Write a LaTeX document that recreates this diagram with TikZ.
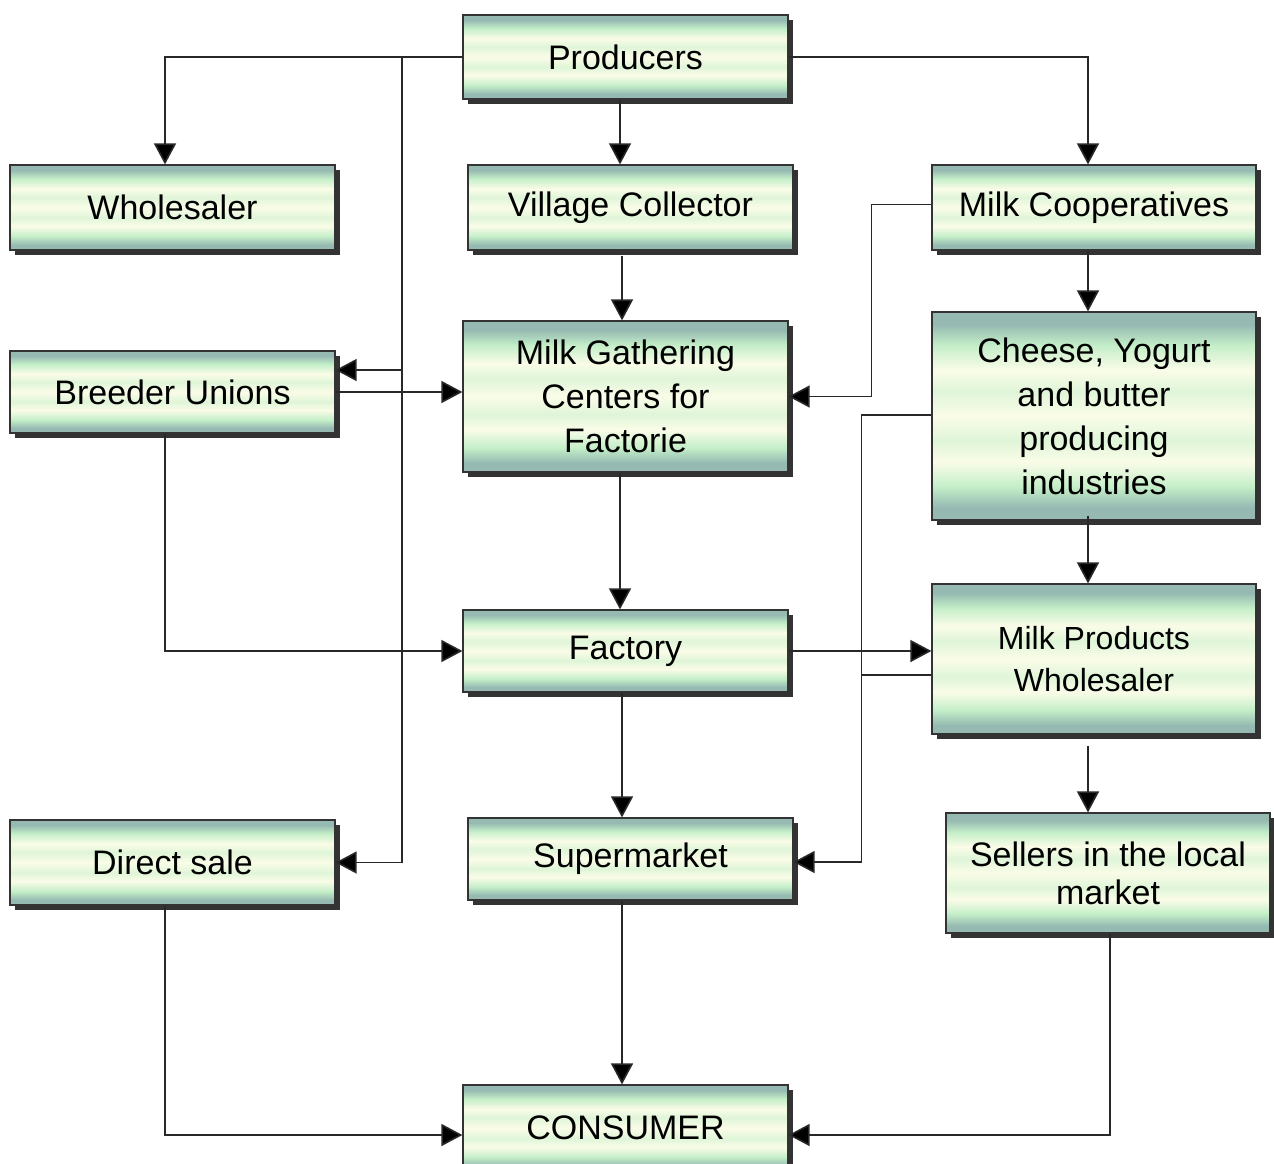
\documentclass[tikz,border=0pt]{standalone}
\usepackage{fontspec}
\setmainfont{Liberation Sans}
\usetikzlibrary{arrows.meta,shadows}
\definecolor{edgeteal}{RGB}{150,186,178}
\definecolor{lgreen}{RGB}{196,238,200}
\definecolor{ivory}{RGB}{250,252,232}
\definecolor{linegray}{RGB}{40,40,40}
\pgfdeclareverticalshading{boxshade}{100bp}{color(0bp)=(edgeteal); color(25bp)=(edgeteal); color(28bp)=(edgeteal); color(33bp)=(lgreen); color(39bp)=(ivory); color(44bp)=(lgreen!50!ivory); color(50bp)=(ivory); color(56bp)=(lgreen!50!ivory); color(61bp)=(ivory); color(67bp)=(lgreen); color(72bp)=(edgeteal); color(75bp)=(edgeteal); color(100bp)=(edgeteal)}
\tikzset{
  box/.style={draw=black!80, line width=1.2pt, shading=boxshade,
    drop shadow={shadow xshift=5pt, shadow yshift=-5pt, fill=black!80, opacity=1},
    align=center, inner sep=2pt, font=\fontsize{34}{44}\selectfont, minimum width=325pt},
  arr/.style={draw=linegray, line width=1.6pt, -{Triangle[length=21pt,width=22pt,fill=black]}},
  ln/.style={draw=linegray, line width=1.6pt}
}
\begin{document}
\begin{tikzpicture}[x=1pt,y=-1pt]
\fill[white] (0,0) rectangle (1274,1163);
\useasboundingbox (0,0) rectangle (1274,1163);

\node[box, minimum height=84pt] (prod) at (625.5,57) {Producers};
\node[box, minimum height=85pt] (whole) at (172.5,207.5) {Wholesaler};
\node[box, minimum height=85pt] (vc) at (630.5,207.5) {Village Collector};
\node[box, minimum height=85pt, minimum width=324pt] (mc) at (1094,207.5) {Milk Cooperatives};
\node[box, minimum height=82pt] (bu) at (172.5,392) {Breeder Unions};
\node[box, minimum height=151pt] (mg) at (625.5,396.5) {Milk Gathering\\Centers for\\Factorie};
\node[box, minimum height=208pt, minimum width=324pt] (ch) at (1094,416) {Cheese, Yogurt\\and butter\\producing\\industries};
\node[box, minimum height=82pt] (fac) at (625.5,651) {Factory};
\node[box, minimum height=150pt, minimum width=324pt, font=\fontsize{32}{42}\selectfont] (mpw) at (1094,659) {Milk Products\\Wholesaler};
\node[box, minimum height=85pt] (ds) at (172.5,862.5) {Direct sale};
\node[box, minimum height=82pt] (sm) at (630.5,859) {Supermarket};
\node[box, minimum height=120pt, minimum width=324pt, font=\fontsize{34}{38}\selectfont] (sl) at (1108,873) {Sellers in the local\\market};
\node[box, minimum height=86pt] (con) at (625.5,1128) {CONSUMER};

\coordinate (tr) at (402,0);
\draw[arr] (prod.west) -| ([xshift=-7.5pt]whole.north);
\draw[arr] (prod.west -| tr) |- ([yshift=22pt]bu.east);
\draw[arr] (prod.west -| tr) |- (ds.east);
\draw[arr] ([xshift=-5.5pt]prod.south) -- ([xshift=-5.5pt]prod.south |- vc.north);
\draw[arr] (prod.east) -| ([xshift=-6pt]mc.north);
\draw[arr] ([xshift=-8.5pt,yshift=-5pt]vc.south) -- ([xshift=-8.5pt]vc.south |- mg.north);
\draw[arr] (bu.east) -- (bu.east -| mg.west);
\draw[arr] ([yshift=3pt]mc.west) -- ++(-60,0) |- (mg.east);
\draw[arr] ([xshift=-6pt]mc.south) -- ([xshift=-6pt]mc.south |- ch.north);
\draw[arr] ([xshift=-5.5pt]mg.south) -- ([xshift=-5.5pt]mg.south |- fac.north);
\draw[arr] ([xshift=-7.5pt]bu.south) |- (fac.west);
\draw[arr] (fac.east) -- (fac.east -| mpw.west);
\draw[arr] ([yshift=1pt]ch.west) -- ++(-70,0) |- ([yshift=-3pt]sm.east);
\draw[ln] ([yshift=-16pt]mpw.west) -- ++(-70,0);
\draw[arr] ([xshift=-6pt,yshift=5pt]ch.south) -- ([xshift=-6pt]ch.south |- mpw.north);
\draw[arr] ([xshift=-3.5pt]fac.south) -- ([xshift=-3.5pt]fac.south |- sm.north);
\draw[arr] ([xshift=-6pt,yshift=-11pt]mpw.south) -- ([xshift=-6pt]mpw.south |- sl.north);
\draw[arr] ([xshift=-7.5pt]ds.south) |- ([yshift=-7pt]con.west);
\draw[arr] ([xshift=-8.5pt]sm.south) -- ([xshift=-8.5pt]sm.south |- con.north);
\draw[arr] ([xshift=2pt]sl.south) |- ([yshift=-7pt]con.east);
\end{tikzpicture}
\end{document}
